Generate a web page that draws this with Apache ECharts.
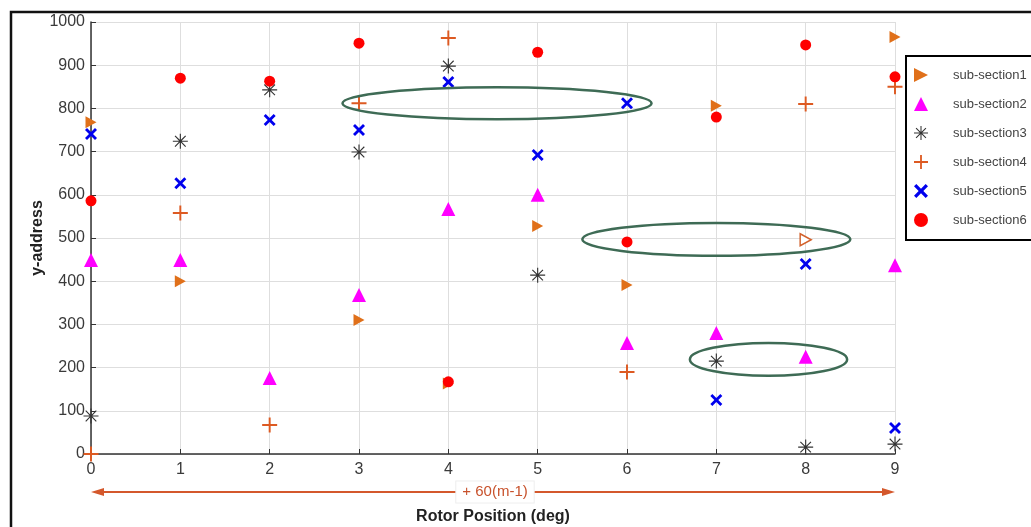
<!DOCTYPE html>
<html>
<head>
<meta charset="utf-8">
<script src="https://cdn.jsdelivr.net/npm/echarts@6/dist/echarts.min.js"></script>
<style>
html, body { margin: 0; padding: 0; background: #fff; }
#chart { width: 1031px; height: 527px; }
</style>
</head>
<body>
<div id="chart"></div>
<script>
// rotor positions 0..9, y values per sub-section (null = not visible)
const positions = [0, 1, 2, 3, 4, 5, 6, 7, 8, 9]
const sub1 = [768, 400, null, 310, 163, 528, 391, 806, 496, 965]
const sub2 = [449, 449, 176, 368, 567, 600, 257, 280, 225, 437]
const sub3 = [88, 724, 843, 699, 898, 414, null, 215, 16, 23]
const sub4 = [0, 558, 67, 812, 963, null, 190, null, 810, 850]
const sub5 = [741, 627, 773, 750, 861, 692, 812, 125, 440, 60]
const sub6 = [586, 870, 863, 951, 167, 930, 491, 780, 947, 873]
const xTicks = [0, 1, 2, 3, 4, 5, 6, 7, 8, 9]
const yTicks = [0, 100, 200, 300, 400, 500, 600, 700, 800, 900, 1000]
const hollowPoint = 8 // sub-section1 point drawn open

const ellipses = [
    { cx: 4.545, cy: 812, rx: 1.73, ry: 37 },
    { cx: 7.0, cy: 497, rx: 1.50, ry: 38 },
    { cx: 7.584, cy: 219, rx: 0.88, ry: 38 }
]

const font = '"Liberation Sans", Arial, sans-serif'
const orange = '#e0701a'

function pairs(vals) {
    const out = []
    vals.forEach((v, i) => {
        if (v !== null) out.push([positions[i], v])
    })
    return out
}

// filled spoke marker (plus, x, asterisk) as one polygon path
function spokes(n, offset, h) {
    const r = 10
    const pts = []
    for (let k = 0; k < n; k++) {
        const a = offset + k * 2 * Math.PI / n
        const dx = Math.cos(a), dy = Math.sin(a)
        pts.push([r * dx + h * dy, r * dy - h * dx])
        pts.push([r * dx - h * dy, r * dy + h * dx])
        const b = a + Math.PI / n
        const ri = h / Math.sin(Math.PI / n)
        pts.push([ri * Math.cos(b), ri * Math.sin(b)])
    }
    return 'path://' + pts.map((p, i) => (i ? 'L' : 'M') + p[0].toFixed(2) + ',' + p[1].toFixed(2)).join('') + 'Z'
}

const triRight = 'path://M0,0L10,5L0,10Z'
const plusPath = spokes(4, 0, 1.3)
const crossPath = spokes(4, Math.PI / 4, 2.0)
const starPath = spokes(8, 0, 0.75)

const chart = echarts.init(document.getElementById('chart'))

const sub1Data = pairs(sub1).map(p => {
    if (p[0] === hollowPoint) {
        return { value: p, itemStyle: { color: '#fff', borderColor: '#d2602a', borderWidth: 1.5 } }
    }
    return p
})

chart.setOption({
    animation: false,
    textStyle: { fontFamily: font },
    grid: { left: 91, right: 136, top: 22, bottom: 73, outerBoundsMode: 'none', containLabel: false },
    legend: {
        orient: 'vertical',
        left: 906,
        top: 56,
        padding: [12, 30, 13, 8],
        itemGap: 15,
        itemWidth: 14,
        itemHeight: 14,
        borderColor: '#000',
        borderWidth: 2,
        backgroundColor: '#fff',
        textStyle: { color: '#444', fontSize: 13, fontFamily: font, lineHeight: 14, padding: [0, 0, 0, 20] },
        data: ['sub-section1', 'sub-section2', 'sub-section3', 'sub-section4', 'sub-section5', 'sub-section6']
    },
    xAxis: {
        type: 'value',
        min: xTicks[0],
        max: xTicks[xTicks.length - 1],
        interval: 1,
        name: 'Rotor Position (deg)',
        nameLocation: 'middle',
        nameGap: 55,
        nameTextStyle: { fontSize: 16, fontWeight: 'bold', color: '#222', fontFamily: font },
        axisLine: { lineStyle: { color: '#333', width: 1.5 } },
        axisTick: { inside: true, length: 5, lineStyle: { color: '#333' } },
        axisLabel: { fontSize: 16, color: '#3a3a3a', margin: 8 },
        splitLine: { show: true, lineStyle: { color: '#dedede' } }
    },
    yAxis: {
        type: 'value',
        min: yTicks[0],
        max: yTicks[yTicks.length - 1],
        interval: 100,
        name: 'y-address',
        nameLocation: 'middle',
        nameGap: 45,
        nameMoveOverlap: false,
        nameTextStyle: { fontSize: 16, fontWeight: 'bold', color: '#222', fontFamily: font },
        axisLine: { show: true, lineStyle: { color: '#333', width: 1.5 } },
        axisTick: { show: true, inside: true, length: 5, lineStyle: { color: '#333' } },
        axisLabel: { fontSize: 16, color: '#3a3a3a', margin: 6, formatter: v => String(v) },
        splitLine: { show: true, lineStyle: { color: '#dedede' } }
    },
    series: [
        {
            name: 'sub-section1',
            type: 'scatter',
            symbol: triRight,
            symbolSize: [11, 12],
            itemStyle: { color: orange, opacity: 1 },
            data: sub1Data
        },
        {
            name: 'sub-section2',
            type: 'scatter',
            symbol: 'triangle',
            symbolSize: 14,
            itemStyle: { color: '#ff00ff', opacity: 1 },
            data: pairs(sub2)
        },
        {
            name: 'sub-section3',
            type: 'scatter',
            symbol: starPath,
            symbolSize: 15,
            itemStyle: { color: '#333', opacity: 1 },
            data: pairs(sub3)
        },
        {
            name: 'sub-section4',
            type: 'scatter',
            symbol: plusPath,
            symbolSize: 15,
            itemStyle: { color: '#dd5a22', opacity: 1 },
            data: pairs(sub4)
        },
        {
            name: 'sub-section5',
            type: 'scatter',
            symbol: crossPath,
            symbolSize: 12,
            itemStyle: { color: '#0000ee', opacity: 1 },
            data: pairs(sub5)
        },
        {
            name: 'sub-section6',
            type: 'scatter',
            symbol: 'circle',
            symbolSize: 11,
            itemStyle: { color: '#ff0000', opacity: 1 },
            data: pairs(sub6)
        }
    ]
})

// annotations: ellipses, range arrow, outer frame
function px(x, y) {
    return chart.convertToPixel({ gridIndex: 0 }, [x, y])
}

const graphics = []
ellipses.forEach(e => {
    const c = px(e.cx, e.cy)
    const edge = px(e.cx + e.rx, e.cy + e.ry)
    graphics.push({
        type: 'ellipse',
        z: 100,
        shape: { cx: c[0], cy: c[1], rx: edge[0] - c[0], ry: c[1] - edge[1] },
        style: { fill: 'none', stroke: '#3e6b55', lineWidth: 2.5 }
    })
})

const a0 = px(xTicks[0], 0)
const a1 = px(xTicks[xTicks.length - 1], 0)
const ay = a0[1] + 38
const arrowColor = '#d4582c'
graphics.push({
    type: 'line',
    shape: { x1: a0[0] + 6, y1: ay, x2: a1[0] - 6, y2: ay },
    style: { stroke: arrowColor, lineWidth: 2 }
})
graphics.push({
    type: 'polygon',
    shape: { points: [[a0[0], ay], [a0[0] + 13, ay - 4], [a0[0] + 13, ay + 4]] },
    style: { fill: arrowColor }
})
graphics.push({
    type: 'polygon',
    shape: { points: [[a1[0], ay], [a1[0] - 13, ay - 4], [a1[0] - 13, ay + 4]] },
    style: { fill: arrowColor }
})
graphics.push({
    type: 'text',
    x: (a0[0] + a1[0]) / 2 + 2,
    y: ay,
    z: 10,
    style: {
        text: '+ 60(m-1)',
        fontSize: 15,
        fontFamily: font,
        fill: '#c8522c',
        align: 'center',
        verticalAlign: 'middle',
        backgroundColor: '#fff',
        borderColor: '#eeeeee',
        borderWidth: 1,
        padding: [3, 6, 3, 6]
    }
})
graphics.push({
    type: 'polyline',
    shape: { points: [[1031, 12], [11, 12], [11, 527]] },
    style: { fill: 'none', stroke: '#111', lineWidth: 2.5 }
})

chart.setOption({ graphic: graphics })
</script>
</body>
</html>
